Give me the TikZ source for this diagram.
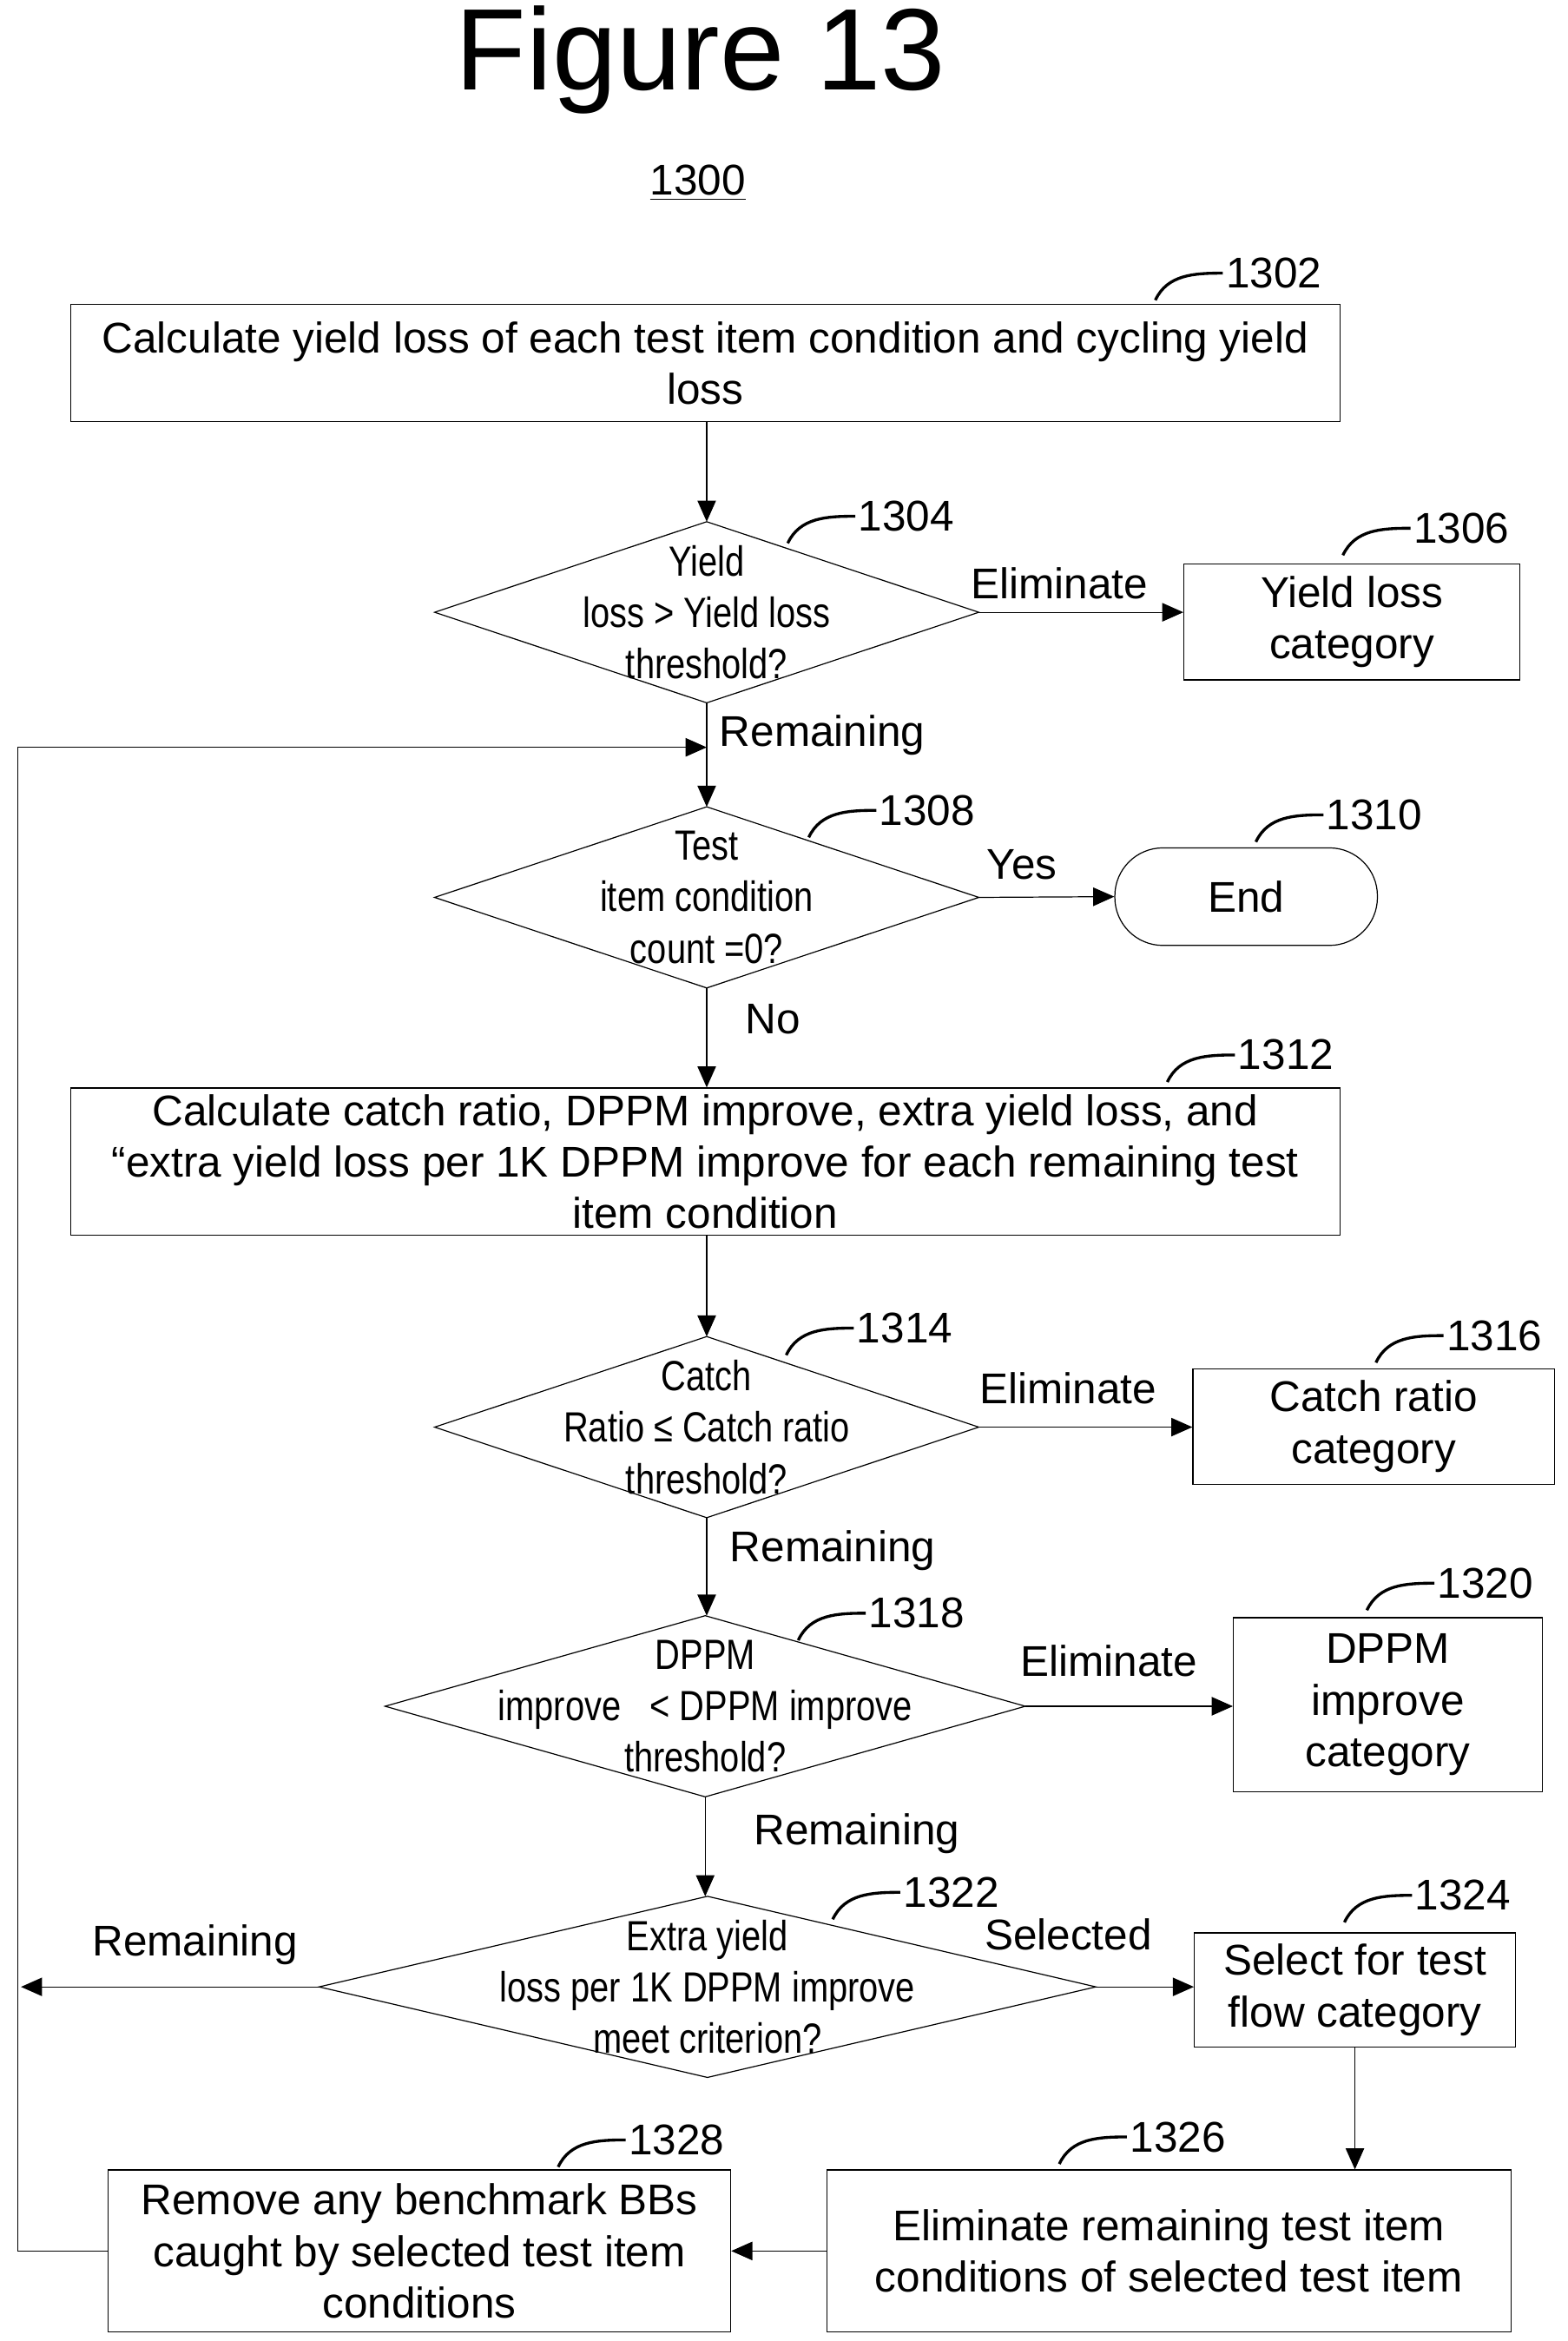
\documentclass[tikz,border=0pt]{standalone}
\usepackage{fontspec}
\setmainfont{Liberation Sans}
\newfontfamily\narrowfont[FakeStretch=0.82]{Liberation Sans}
\usetikzlibrary{arrows.meta, positioning, calc}
\newcommand{\px}{0.02cm}
\tikzset{x=0.02cm, y=0.02cm, line width=1.6pt, >={Triangle[length=8pt, width=7pt]},
	every node/.style={font=\fontsize{16.3}{19.5}\selectfont},
	box/.style={draw, rectangle, align=center, inner sep=0pt},
	dec/.style={rectangle, inner sep=0pt, align=center, font=\narrowfont\fontsize{16}{19.5}\selectfont},
	term/.style={draw, rectangle, rounded corners=32*\px, inner sep=0pt},
	arr/.style={->},
	num/.style={anchor=west, inner sep=1pt}}
\newcommand{\leader}[4]{%
	\node[num] (#1) at (#2,#3) {#4};
	\coordinate (#1e) at ($(#1.west)+(-45,-18)$);
	\draw[line width=1.1pt] (#1.west) to[out=180, in=65] (#1e);}
\begin{document}
\begin{tikzpicture}
	\useasboundingbox (0,0) rectangle (1045,-1560);
	\node (title) at (467,-40) {\fontsize{44}{50}\selectfont Figure 13};
	\node (fig) at (465,-122) {\underline{1300}};
	% boxes and decisions
	\node[box, minimum width=846*\px, minimum height=78*\px] (b1302) at (470,-242) {Calculate yield loss of each test item condition and cycling yield\\loss};
	\node[dec, minimum width=362*\px, minimum height=120*\px] (d1304) at (471,-408) {Yield\\loss > Yield loss\\threshold?};
	\node[box, minimum width=224*\px, minimum height=77*\px] (b1306) at (901,-414.5) {Yield loss\\category};
	\node[dec, minimum width=362*\px, minimum height=120*\px] (d1308) at (471,-598) {Test\\item condition\\count =0?};
	\node[term, minimum width=175*\px, minimum height=65*\px] (end) at (830.5,-597.5) {End};
	\node[box, minimum width=846*\px, minimum height=98*\px] (b1312) at (470,-774) {Calculate catch ratio, DPPM improve, extra yield loss, and\\“extra yield loss per 1K DPPM improve for each remaining test\\item condition};
	\node[dec, minimum width=362*\px, minimum height=120*\px] (d1314) at (471,-951) {Catch\\Ratio ≤ Catch ratio\\threshold?};
	\node[box, minimum width=241*\px, minimum height=77*\px] (b1316) at (915.5,-950.5) {Catch ratio\\category};
	\node[dec, minimum width=426*\px, minimum height=120*\px] (d1318) at (470,-1137) {DPPM\\improve \ \ < DPPM improve\\threshold?};
	\node[box, minimum width=206*\px, minimum height=116*\px] (b1320) at (925,-1136) {DPPM\\improve\\category};
	\node[dec, minimum width=517*\px, minimum height=120*\px] (d1322) at (471.5,-1324) {Extra yield\\loss per 1K DPPM improve\\meet criterion?};
	\node[box, minimum width=214*\px, minimum height=76*\px] (b1324) at (903,-1326) {Select for test\\flow category};
	\node[box, minimum width=456*\px, minimum height=108*\px] (b1326) at (779,-1500) {Eliminate remaining test item\\conditions of selected test item};
	\node[box, minimum width=415*\px, minimum height=108*\px] (b1328) at (279.5,-1500) {Remove any benchmark BBs\\caught by selected test item\\conditions};
	\foreach \d in {d1304, d1308, d1314, d1318, d1322}
		\draw (\d.north) -- (\d.east) -- (\d.south) -- (\d.west) -- cycle;
	% reference numbers
	\leader{n1302}{815}{-182}{1302}
	\leader{n1304}{570}{-344}{1304}
	\leader{n1306}{940}{-352}{1306}
	\leader{n1308}{584}{-540}{1308}
	\leader{n1310}{882}{-543}{1310}
	\leader{n1312}{823}{-703}{1312}
	\leader{n1314}{569}{-885}{1314}
	\leader{n1316}{962}{-890}{1316}
	\leader{n1318}{577}{-1075}{1318}
	\leader{n1320}{956}{-1055}{1320}
	\leader{n1322}{600}{-1261}{1322}
	\leader{n1324}{941}{-1263}{1324}
	\leader{n1326}{751}{-1424}{1326}
	\leader{n1328}{417}{-1426}{1328}
	% connectors
	\coordinate (join) at (471,-498);
	\coordinate (loop) at (12,-498);
	\coordinate (left) at (14,-1324);
	\draw[arr] (b1302.south -| d1304.north) -- (d1304.north);
	\draw[arr] (d1304.east) -- (b1306.west |- d1304.east);
	\draw[arr] (d1304.south) -- (d1308.north);
	\draw[arr] (d1308.east) -- (end.west);
	\draw[arr] (d1308.south) -- (b1312.north -| d1308.south);
	\draw[arr] (b1312.south -| d1314.north) -- (d1314.north);
	\draw[arr] (d1314.east) -- (b1316.west |- d1314.east);
	\draw[arr] (d1314.south) -- (d1318.north -| d1314.south);
	\draw[arr] (d1318.east) -- (b1320.west |- d1318.east);
	\draw[arr] (d1318.south) -- (d1322.north -| d1318.south);
	\draw[arr] (d1322.east) -- (b1324.west |- d1322.east);
	\draw[arr] (d1322.west) -- (left);
	\draw[arr] (b1324.south) -- (b1326.north -| b1324.south);
	\draw[arr] (b1326.west) -- (b1328.east);
	\draw[arr] (b1328.west) -| (loop) -- (join);
	% connector labels
	\node (e1) at (706,-389) {Eliminate};
	\node (r1) at (548,-490) {Remaining};
	\node (y1) at (681,-576) {Yes};
	\node (no1) at (515,-679) {No};
	\node (e2) at (712,-925) {Eliminate};
	\node (r2) at (555,-1033) {Remaining};
	\node (e3) at (739,-1107) {Eliminate};
	\node (r3) at (571,-1222) {Remaining};
	\node (s1) at (712,-1289) {Selected};
	\node (r4) at (130,-1296) {Remaining};
\end{tikzpicture}
\end{document}
